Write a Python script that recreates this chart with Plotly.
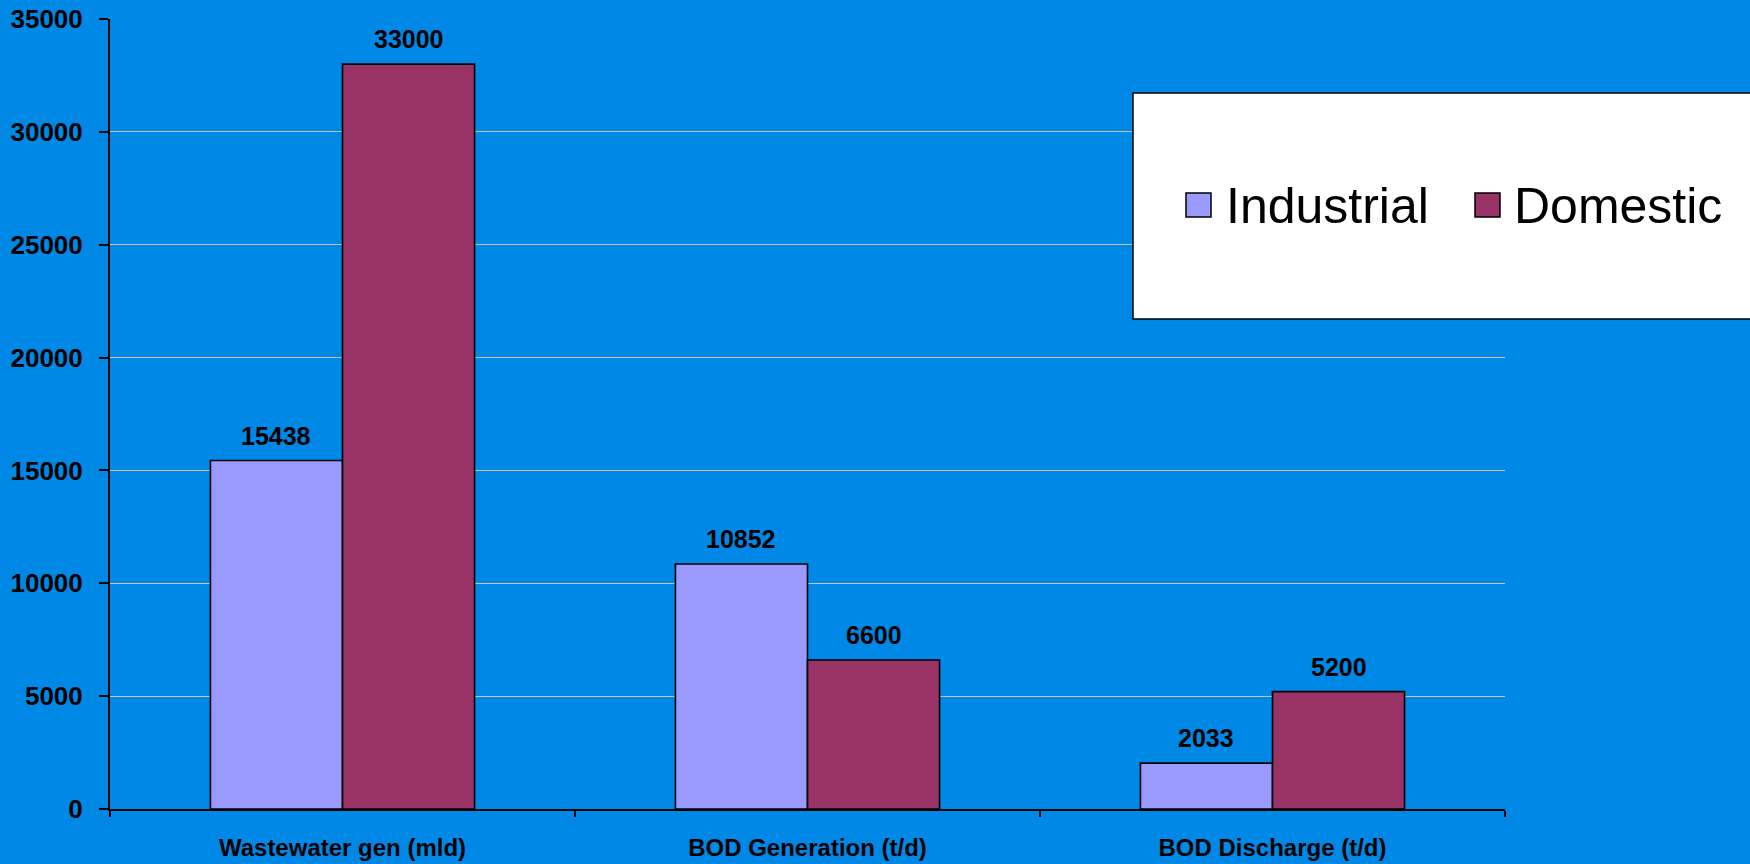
import plotly.graph_objects as go

categories = ["Wastewater gen (mld)", "BOD Generation (t/d)", "BOD Discharge (t/d)"]
series_names = ["Industrial", "Domestic"]
industrial = [15438, 10852, 2033]
domestic = [33000, 6600, 5200]
y_ticks = [0, 5000, 10000, 15000, 20000, 25000, 30000, 35000]

BG = "#0088E6"
COLORS = ["#9999FF", "#993366"]
FONT = "Arial, Liberation Sans, sans-serif"

W, H = 1750, 864
L, R, T, B = 110, 245, 19, 55
PW, PH = W - L - R, H - T - B

def px_x(x):
    return (x - L) / PW

def px_y(y):
    return (H - B - y) / PH

fig = go.Figure()
for name, vals, col in zip(series_names, [industrial, domestic], COLORS):
    fig.add_trace(go.Bar(
        x=categories, y=vals, name=name,
        marker=dict(color=col, line=dict(color="black", width=1.6)),
        showlegend=False,
    ))

BAR_W = 0.568 * PW / 3 / 2  # pixel width of one bar
annotations = []
for i, vals in enumerate([industrial, domestic]):
    offset = -0.5 if i == 0 else 0.5
    for ci, v in enumerate(vals):
        annotations.append(dict(
            x=ci, y=v, xref="x", yref="y", text=f"<b>{v}</b>",
            showarrow=False, yanchor="bottom", yshift=9,
            xshift=offset * BAR_W,
            font=dict(family=FONT, size=25, color="black"),
        ))

# legend box (manual, to match the large legend of the original)
shapes = [dict(type="rect", xref="paper", yref="paper",
               x0=px_x(1133), x1=px_x(1770), y0=px_y(319), y1=px_y(93),
               fillcolor="white", line=dict(color="black", width=1.5), layer="above")]
leg_items = [(1186, 1224), (1475, 1512)]
for (sx, tx), name, col in zip(leg_items, series_names, COLORS):
    shapes.append(dict(type="rect", xref="paper", yref="paper",
                       x0=px_x(sx), x1=px_x(sx + 25), y0=px_y(217), y1=px_y(193),
                       fillcolor=col, line=dict(color="black", width=1.5), layer="above"))
    annotations.append(dict(x=px_x(tx), y=px_y(206), xref="paper", yref="paper",
                            text=name, showarrow=False, xanchor="left", yanchor="middle",
                            font=dict(family=FONT, size=50, color="black")))

fig.update_layout(
    width=W, height=H,
    margin=dict(l=L, r=R, t=T, b=B, pad=0, autoexpand=False),
    paper_bgcolor=BG, plot_bgcolor=BG,
    barmode="group", bargap=0.432, bargroupgap=0,
    font=dict(family=FONT, color="black"),
    showlegend=False,
    annotations=annotations, shapes=shapes,
)
fig.update_xaxes(
    type="category", showline=True, linecolor="black", linewidth=2,
    ticks="outside", ticklen=6, tickcolor="black", tickwidth=1.5,
    tickson="boundaries", showgrid=False, automargin=False,
    tickfont=dict(family=FONT, size=24, color="black", weight="bold"),
    ticklabelstandoff=16,
)
fig.update_yaxes(
    range=[0, 35000], tickvals=y_ticks, tickformat="d",
    showline=True, linecolor="black", linewidth=2,
    ticks="outside", ticklen=9, tickcolor="black", tickwidth=2,
    showgrid=True, gridcolor="#C4C4C4", gridwidth=1.3, zeroline=False,
    automargin=False,
    tickfont=dict(family=FONT, size=26, color="black", weight="bold"),
    ticklabelstandoff=11,
)

fig.write_html("out.html")
